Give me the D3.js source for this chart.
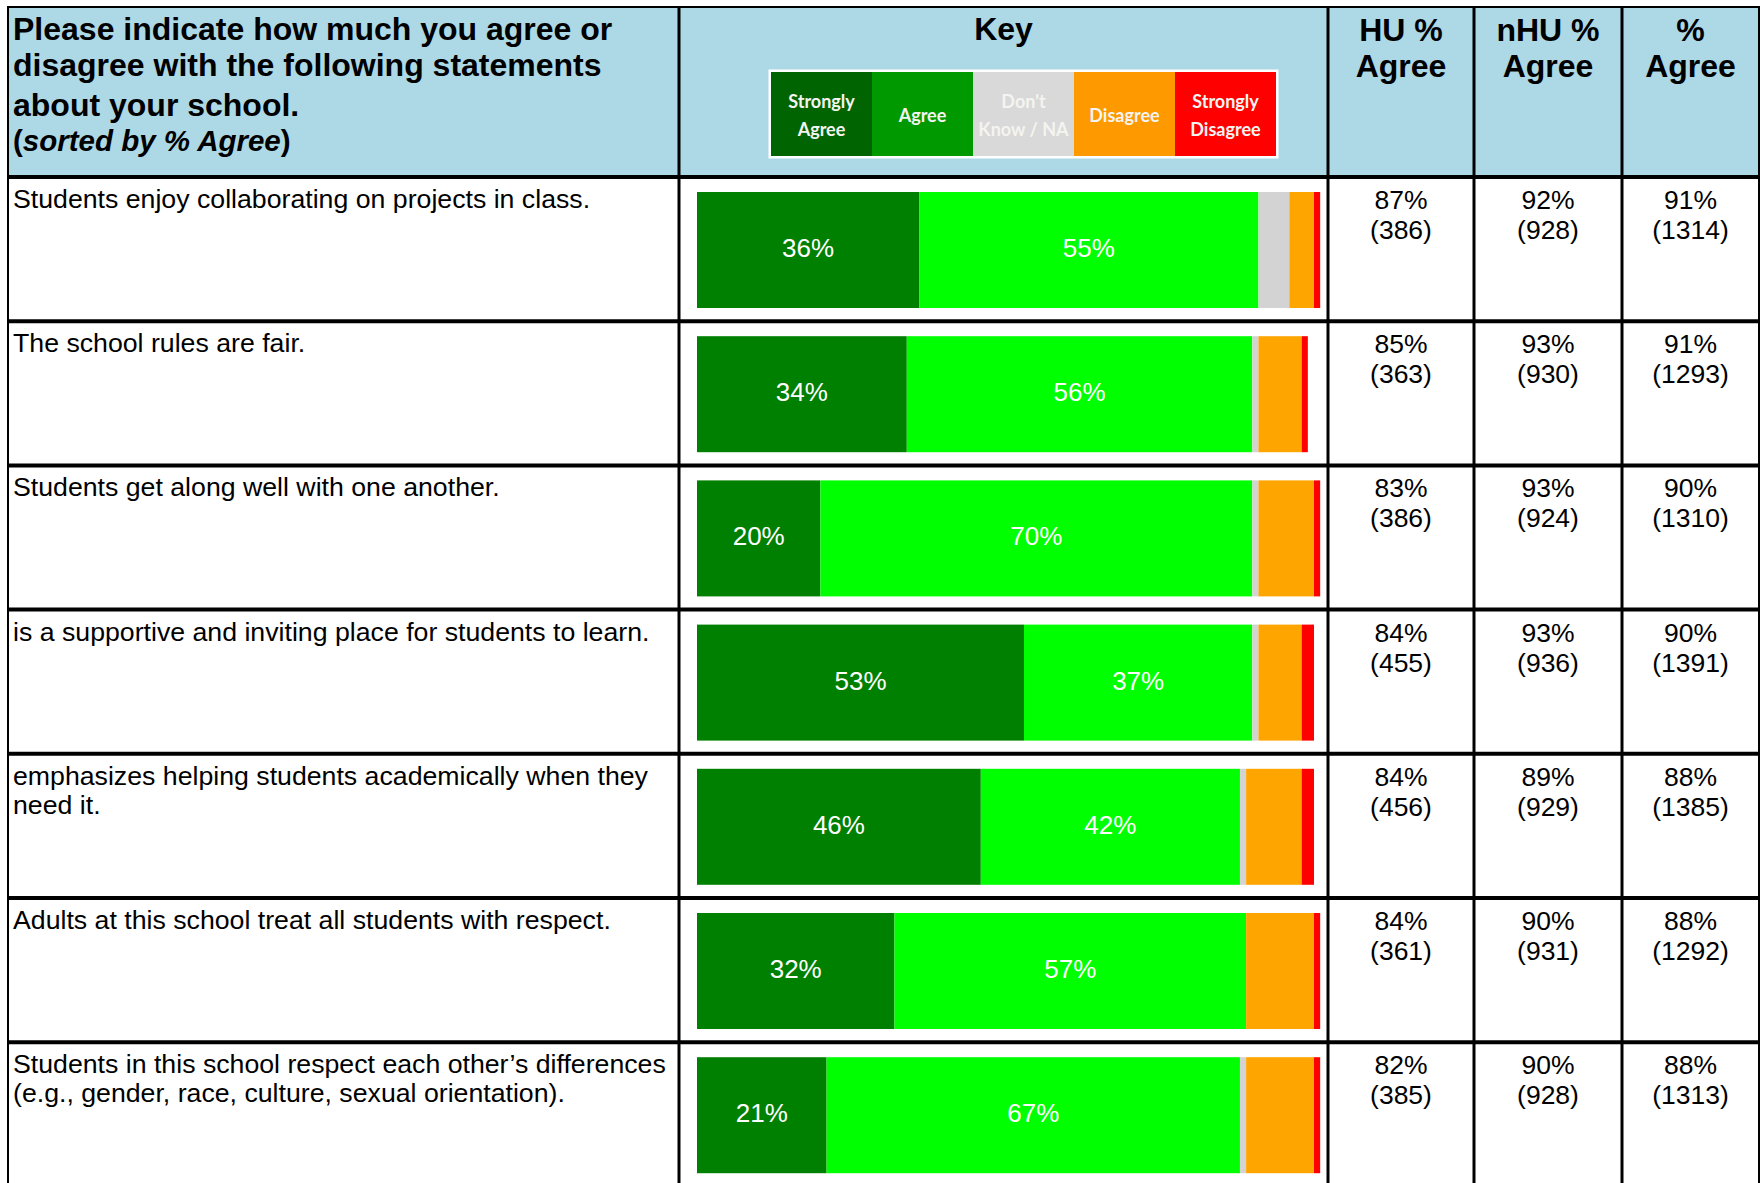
<!DOCTYPE html>
<html>
<head>
<meta charset="utf-8">
<script src="https://cdn.jsdelivr.net/npm/d3@7"></script>
<style>
body{margin:0;background:#fff;}
svg{display:block;font-family:"Liberation Sans",Arial,sans-serif;}
</style>
</head>
<body>
<div id="chart"></div>
<script>
// statements, in the order shown (sorted by % Agree)
var statements = [
  "Students enjoy collaborating on projects in class.",
  "The school rules are fair.",
  "Students get along well with one another.",
  "is a supportive and inviting place for students to learn.",
  "emphasizes helping students academically when they need it.",
  "Adults at this school treat all students with respect.",
  "Students in this school respect each other\u2019s differences (e.g., gender, race, culture, sexual orientation)."
];
// response shares (%)
var stronglyAgree    = [36, 34, 20, 53, 46, 32, 21];
var agree            = [55, 56, 70, 37, 42, 57, 67];
var dontKnow         = [5, 1, 1, 1, 1, 0, 1];
var disagree         = [4, 7, 9, 7, 9, 11, 11];
var stronglyDisagree = [1, 1, 1, 2, 2, 1, 1];
// summary columns
var huPct  = [87, 85, 83, 84, 84, 84, 82];
var huN    = [386, 363, 386, 455, 456, 361, 385];
var nhuPct = [92, 93, 93, 93, 89, 90, 90];
var nhuN   = [928, 930, 924, 936, 929, 931, 928];
var allPct = [91, 91, 90, 90, 88, 88, 88];
var allN   = [1314, 1293, 1310, 1391, 1385, 1292, 1313];
// header + key texts
var titleLines = ["Please indicate how much you agree or", "disagree with the following statements", "about your school."];
var colHeads = [["HU %", "Agree"], ["nHU %", "Agree"], ["%", "Agree"]];
var keyLabels = [["Strongly", "Agree"], ["Agree"], ["Don't", "Know / NA"], ["Disagree"], ["Strongly", "Disagree"]];

var keys = ["sa", "a", "dk", "d", "sd"];
var barColors = d3.scaleOrdinal().domain(keys).range(["#008000", "#00ff00", "#d3d3d3", "#ffa500", "#ff0000"]);
var keyColors = ["#006400", "#009900", "#d9d9d9", "#ff9900", "#ff0000"];

var W = 1760, H = 1183;
var colX = [8, 679, 1328, 1474, 1622, 1759];
var headTop = 7, headBottom = 177, rowH = 144.2;

var table = statements.map(function(s, i) {
  return {i: i, text: s, sa: stronglyAgree[i], a: agree[i], dk: dontKnow[i], d: disagree[i], sd: stronglyDisagree[i],
    cols: [[huPct[i], huN[i]], [nhuPct[i], nhuN[i]], [allPct[i], allN[i]]]};
});

var x = d3.scaleLinear().domain([0, 100]).range([697, 1314]);
var y = d3.scaleBand().domain(d3.range(statements.length))
  .range([headBottom, headBottom + rowH * statements.length]);

var svg = d3.select("#chart").append("svg")
  .attr("width", W).attr("height", H);

//Header background
svg.append("rect")
  .attr("x", colX[0]).attr("y", headTop)
  .attr("width", colX[5] - colX[0]).attr("height", headBottom - headTop)
  .attr("fill", "#add8e6");

//Title
var title = svg.append("text")
  .attr("x", 13).attr("font-size", "32px").attr("font-weight", "bold").attr("fill", "#000");
var titleY = [40, 76, 116];
titleLines.forEach(function(t, k) {
  title.append("tspan").attr("x", 13).attr("y", titleY[k]).text(t);
});
var sub = svg.append("text")
  .attr("x", 13).attr("y", 151).attr("font-size", "29.5px").attr("font-weight", "bold");
sub.append("tspan").text("(");
sub.append("tspan").attr("font-style", "italic").text("sorted by % Agree");
sub.append("tspan").text(")");

//Key
var keyMid = (colX[1] + colX[2]) / 2;
svg.append("text")
  .attr("x", keyMid).attr("y", 40)
  .attr("text-anchor", "middle").attr("font-size", "32px").attr("font-weight", "bold")
  .text("Key");
var keyX = d3.scaleBand().domain(d3.range(5)).range([771, 1276]);
svg.append("rect")
  .attr("x", 768.5).attr("y", 69.5).attr("width", 510).attr("height", 89)
  .attr("fill", "#fff");
var keyCell = svg.selectAll("g.keyCell")
  .data(keyLabels).enter().append("g")
  .attr("class", "keyCell")
  .attr("transform", function(d, i) { return "translate(" + keyX(i) + ",72)"; });
keyCell.append("rect")
  .attr("width", keyX.bandwidth()).attr("height", 84)
  .attr("fill", function(d, i) { return keyColors[i]; });
keyCell.append("text")
  .attr("text-anchor", "middle")
  .style("font-family", "Lato, 'Open Sans', sans-serif")
  .style("font-size", "18px").style("font-weight", "bold")
  .attr("fill", "#f4f4f0")
  .selectAll("tspan")
  .data(function(d) { return d; }).enter().append("tspan")
  .attr("x", keyX.bandwidth() / 2)
  .attr("y", function(d, j, arr) { return 44 + (j - (arr.length - 1) / 2) * 28; })
  .attr("dy", "0.35em")
  .text(function(d) { return d; });

//Column heads
colHeads.forEach(function(h, k) {
  var cx = (colX[k + 2] + colX[k + 3]) / 2;
  var t = svg.append("text").attr("text-anchor", "middle")
    .attr("font-size", "32px").attr("font-weight", "bold");
  h.forEach(function(s, j) {
    t.append("tspan").attr("x", cx).attr("y", [41, 77][j]).text(s);
  });
});

//Rows
var row = svg.selectAll("g.row")
  .data(table).enter().append("g")
  .attr("class", "row")
  .attr("transform", function(d) { return "translate(0," + y(d.i) + ")"; });

//Statement text with wrapping
row.append("text")
  .attr("class", "stmt")
  .attr("font-size", "26.7px")
  .attr("fill", "#000")
  .each(function(d) {
    var el = d3.select(this), words = d.text.split(" "), line = [], ln = 0;
    var ts = el.append("tspan").attr("x", 13).attr("y", 31);
    words.forEach(function(w) {
      line.push(w);
      ts.text(line.join(" "));
      if (ts.node().getComputedTextLength() > 662 && line.length > 1) {
        line.pop();
        ts.text(line.join(" "));
        line = [w];
        ln++;
        ts = el.append("tspan").attr("x", 13).attr("y", 31 + ln * 29).text(w);
      }
    });
  });

//Stacked bars
var stacked = d3.stack().keys(keys)(table);
var barTop = 15, barH = 116;
stacked.forEach(function(layer) {
  row.append("rect")
    .attr("class", "bar")
    .attr("x", function(d) { return x(layer[d.i][0]); })
    .attr("y", barTop)
    .attr("width", function(d) { return x(layer[d.i][1]) - x(layer[d.i][0]); })
    .attr("height", barH)
    .style("fill", barColors(layer.key));
  if (layer.key === "sa" || layer.key === "a") {
    row.append("text")
      .attr("class", "label")
      .attr("x", function(d) { return (x(layer[d.i][0]) + x(layer[d.i][1])) / 2; })
      .attr("y", barTop + barH / 2 - 2)
      .attr("dy", "0.35em")
      .attr("text-anchor", "middle")
      .attr("font-size", "26px")
      .attr("fill", "#fff")
      .text(function(d) { return d[layer.key] + "%"; });
  }
});

//Summary columns
[0, 1, 2].forEach(function(k) {
  var cx = (colX[k + 2] + colX[k + 3]) / 2;
  var t = row.append("text").attr("text-anchor", "middle")
    .attr("font-size", "26.5px").attr("fill", "#000");
  t.append("tspan").attr("x", cx).attr("y", 32).text(function(d) { return d.cols[k][0] + "%"; });
  t.append("tspan").attr("x", cx).attr("y", 62).text(function(d) { return "(" + d.cols[k][1] + ")"; });
});

//Grid lines
var grid = svg.append("g").attr("stroke", "#000");
var hLines = [headBottom].concat(d3.range(1, statements.length).map(function(i) { return y(i); }));
grid.selectAll("line.h").data(hLines).enter().append("line")
  .attr("x1", colX[0]).attr("x2", colX[5])
  .attr("y1", function(d) { return d; }).attr("y2", function(d) { return d; })
  .attr("stroke-width", 4);
grid.selectAll("line.v").data(colX.slice(1, 5)).enter().append("line")
  .attr("x1", function(d) { return d; }).attr("x2", function(d) { return d; })
  .attr("y1", headTop).attr("y2", H)
  .attr("stroke-width", 3);
grid.append("path")
  .attr("d", "M" + colX[0] + "," + H + "V" + headTop + "H" + colX[5] + "V" + H)
  .attr("fill", "none").attr("stroke-width", 2);
</script>
</body>
</html>
